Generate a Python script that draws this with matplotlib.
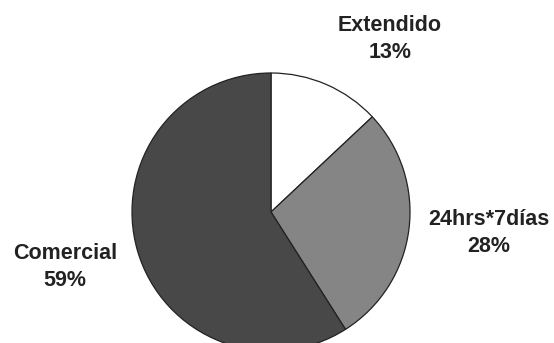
import matplotlib.pyplot as plt

categorias = ['Extendido', '24hrs*7días', 'Comercial']
porcentajes = [13, 28, 59]
colores = ['#ffffff', '#858585', '#484848']

# centro de cada etiqueta (en píxeles de la figura)
pos_etiquetas = [(390, 39), (489, 233), (65, 267)]

W, H = 554, 343
cx, cy, R = 271, 212, 139

fig = plt.figure(figsize=(W / 100, H / 100), dpi=100)
ax = fig.add_axes([0, 0, 1, 1])

ax.pie(porcentajes, colors=colores, startangle=90, counterclock=False,
       radius=1, center=(0, 0),
       wedgeprops=dict(edgecolor='#222222', linewidth=0.9))

for nombre, p, (px, py) in zip(categorias, porcentajes, pos_etiquetas):
    ax.text((px - cx) / R, (cy - py) / R, '%s\n%d%%' % (nombre, p),
            ha='center', va='center', fontsize=15.5, fontweight='bold',
            family='Liberation Sans', color='#222222', linespacing=1.32)

ax.set_xlim(-cx / R, (W - cx) / R)
ax.set_ylim((cy - H) / R, cy / R)
ax.set_aspect('equal')
ax.axis('off')

fig.savefig('out.png', dpi=100)
